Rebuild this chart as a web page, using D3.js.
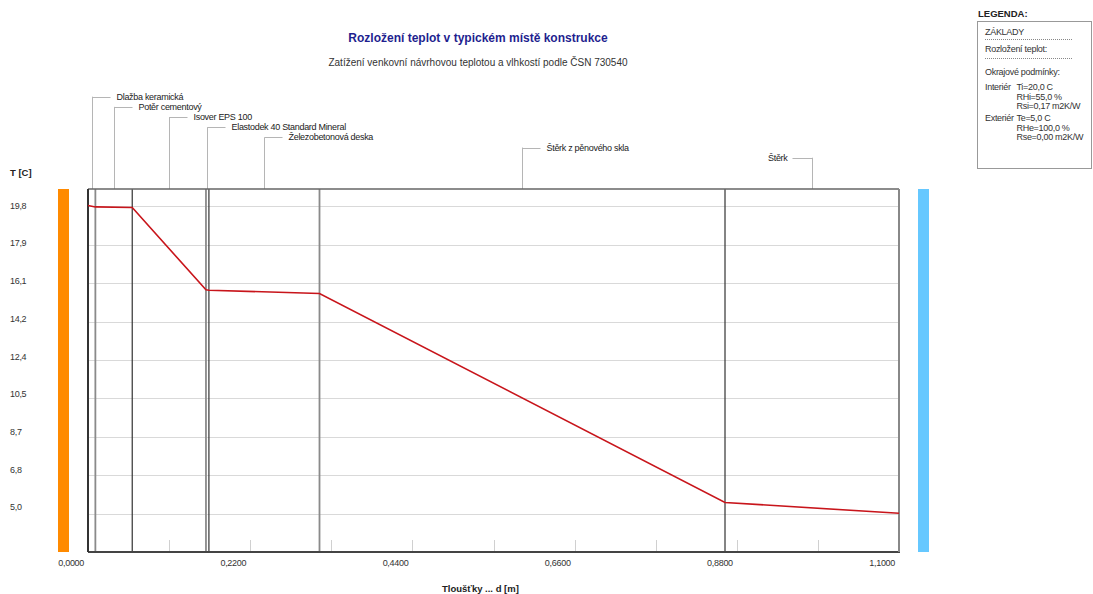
<!DOCTYPE html>
<html><head><meta charset="utf-8">
<script src="https://cdn.jsdelivr.net/npm/d3@7/dist/d3.min.js"></script>
<style>
body{margin:0;background:#fff;}
svg{display:block;font-family:"Liberation Sans",Arial,sans-serif;}
.s{font-size:9px;letter-spacing:-0.3px;fill:#333;}
</style></head>
<body><svg id="c" width="1093" height="594"></svg>
<script>
// ---- data ----
const layerNames = ["Dlažba keramická","Potěr cementový","Isover EPS 100","Elastodek 40 Standard Mineral","Železobetonová deska","Štěrk z pěnového skla","Štěrk"];
const layerThickness = [0.01, 0.05, 0.10, 0.004, 0.15, 0.55, 0.236];
const interfaceTemps = [19.84, 19.77, 19.74, 15.78, 15.76, 15.60, 5.54, 5.02];
const yTickValues = [5.0, 6.85, 8.7, 10.55, 12.4, 14.25, 16.1, 17.95, 19.8];
const yTickLabels = ["5,0","6,8","8,7","10,5","12,4","14,2","16,1","17,9","19,8"];
const xMinorTicks = [0.11,0.22,0.33,0.44,0.55,0.66,0.77,0.88,0.99];
const xTickValues = [0, 0.22, 0.44, 0.66, 0.88, 1.1];
const xTickLabels = ["0,0000","0,2200","0,4400","0,6600","0,8800","1,1000"];
const titleText = "Rozložení teplot v typickém místě konstrukce";
const subtitleText = "Zatížení venkovní návrhovou teplotou a vlhkostí podle ČSN 730540";
const legendLines = [
  ["ZÁKLADY",""],["---",""],["Rozložení teplot:",""],["---",""],["Okrajové podmínky:",""],
  ["Interiér","Ti=20,0 C"],["","RHi=55,0 %"],["","Rsi=0,17 m2K/W"],
  ["Exteriér","Te=5,0 C"],["","RHe=100,0 %"],["","Rse=0,00 m2K/W"]
];

// ---- layout ----
const L = 88, R = 899, T = 189, B = 552;
const svg = d3.select("#c");
const bounds = [0];
layerThickness.forEach(t => bounds.push(+(bounds[bounds.length-1] + t).toFixed(4)));
const x = d3.scaleLinear().domain([0, bounds[bounds.length-1]]).range([L, R]);
const y = d3.scaleLinear().domain([5, 19.8]).range([513.7, 206.3]);
const yLab = d3.scaleLinear().domain([5, 19.8]).range([507.3, 205.7]);

// title
svg.append("text").attr("x", 478).attr("y", 38).attr("text-anchor","middle").attr("dominant-baseline","central")
  .attr("font-size", 12).attr("font-weight","bold").attr("fill","#1f1f8f").text(titleText);
svg.append("text").attr("x", 478).attr("y", 62.7).attr("text-anchor","middle").attr("dominant-baseline","central")
  .attr("font-size", 10).attr("fill","#333").text(subtitleText);

// side bars
svg.append("rect").attr("x",58).attr("y",T).attr("width",11).attr("height",B-T).attr("fill","#ff8a00");
svg.append("rect").attr("x",918).attr("y",T).attr("width",11).attr("height",B-T).attr("fill","#66c8ff");

// gridlines
svg.append("g").selectAll("line").data(yTickValues).join("line")
  .attr("x1",L).attr("x2",R).attr("y1",d=>Math.round(y(d))+0.5).attr("y2",d=>Math.round(y(d))+0.5)
  .attr("stroke","#d9d9d9").attr("stroke-width",1);
// y labels
svg.append("g").selectAll("text").data(yTickValues).join("text").attr("class","s")
  .attr("x",10).attr("y",d=>yLab(d)).attr("dominant-baseline","central")
  .text((d,i)=>yTickLabels[i]);
svg.append("text").attr("x",10).attr("y",172).attr("dominant-baseline","central")
  .attr("font-size",9.5).attr("font-weight","bold").attr("fill","#222").text("T [C]");

// bottom minor ticks
svg.append("g").selectAll("line").data(xMinorTicks).join("line")
  .attr("x1",d=>Math.round(x(d))+0.5).attr("x2",d=>Math.round(x(d))+0.5).attr("y1",540).attr("y2",B)
  .attr("stroke","#d0d0d0");
// x labels
svg.append("g").selectAll("text").data(xTickValues).join("text").attr("class","s")
  .attr("x",d=>x(d)-4).attr("y",563.3).attr("text-anchor","end").attr("dominant-baseline","central")
  .text((d,i)=>xTickLabels[i]);
svg.append("text").attr("x",442).attr("y",588).attr("dominant-baseline","central")
  .attr("font-size",9.5).attr("font-weight","bold").attr("fill","#222").text("Tloušťky ... d [m]");

// layer leaders and labels
layerNames.forEach((name,i)=>{
  const xm = Math.round(x((bounds[i]+bounds[i+1])/2))+0.5;
  const ly = 96.7 + i*10.17;
  const flip = i === layerNames.length-1;
  const g = svg.append("g");
  g.append("line").attr("x1",xm).attr("x2",xm).attr("y1",ly).attr("y2",T).attr("stroke","#b5b5b5");
  g.append("line").attr("x1",xm).attr("x2",flip?xm-20:xm+18).attr("y1",Math.round(ly)+0.5).attr("y2",Math.round(ly)+0.5).attr("stroke","#b5b5b5");
  g.append("text").attr("class","s").attr("x",flip?xm-25:xm+24).attr("y",ly).attr("text-anchor",flip?"end":"start")
    .attr("dominant-baseline","central").style("fill","#222").text(name);
});

// layer boundaries (internal)
bounds.slice(1,-1).forEach((b,i)=>{
  svg.append("line").attr("x1",x(b)).attr("x2",x(b)).attr("y1",T).attr("y2",B)
    .attr("stroke", i%2===0 ? "#8a8a8a" : "#333").attr("stroke-width", i%2===0 ? 1.8 : 1.2);
});

// frame
svg.append("line").attr("x1",L).attr("x2",R).attr("y1",T).attr("y2",T).attr("stroke","#666").attr("stroke-width",1.5);
svg.append("line").attr("x1",L).attr("x2",R+1).attr("y1",B).attr("y2",B).attr("stroke","#444").attr("stroke-width",1.8);
svg.append("line").attr("x1",L).attr("x2",L).attr("y1",T).attr("y2",B).attr("stroke","#333").attr("stroke-width",2);
svg.append("line").attr("x1",R).attr("x2",R).attr("y1",T).attr("y2",B).attr("stroke","#888").attr("stroke-width",2);

// temperature line
const pts = bounds.map((b,i)=>[b, interfaceTemps[i]]);
svg.append("path").datum(pts)
  .attr("d", d3.line().x(d=>x(d[0])).y(d=>y(d[1])))
  .attr("fill","none").attr("stroke","#c8151b").attr("stroke-width",1.6);

// legend
svg.append("text").attr("x",978).attr("y",13).attr("dominant-baseline","central")
  .attr("font-size",9.5).attr("font-weight","bold").attr("fill","#222").text("LEGENDA:");
svg.append("rect").attr("x",977.5).attr("y",21.5).attr("width",114).attr("height",147).attr("fill","#fff").attr("stroke","#999");
const legY = [31.7, 39.3, 49.3, 58.3, 71.7, 87.3, 96.7, 106, 118.3, 127.7, 136.7];
legendLines.forEach((ln,i)=>{
  if (ln[0]==="---") {
    svg.append("line").attr("x1",985).attr("x2",1072).attr("y1",Math.round(legY[i])+0.5).attr("y2",Math.round(legY[i])+0.5)
      .attr("stroke","#888").attr("stroke-dasharray","1,1");
    return;
  }
  if (ln[0]) svg.append("text").attr("class","s").attr("x",985).attr("y",legY[i]).attr("dominant-baseline","central").text(ln[0]);
  if (ln[1]) svg.append("text").attr("class","s").attr("x",1016.5).attr("y",legY[i]).attr("dominant-baseline","central").text(ln[1]);
});
</script></body></html>
